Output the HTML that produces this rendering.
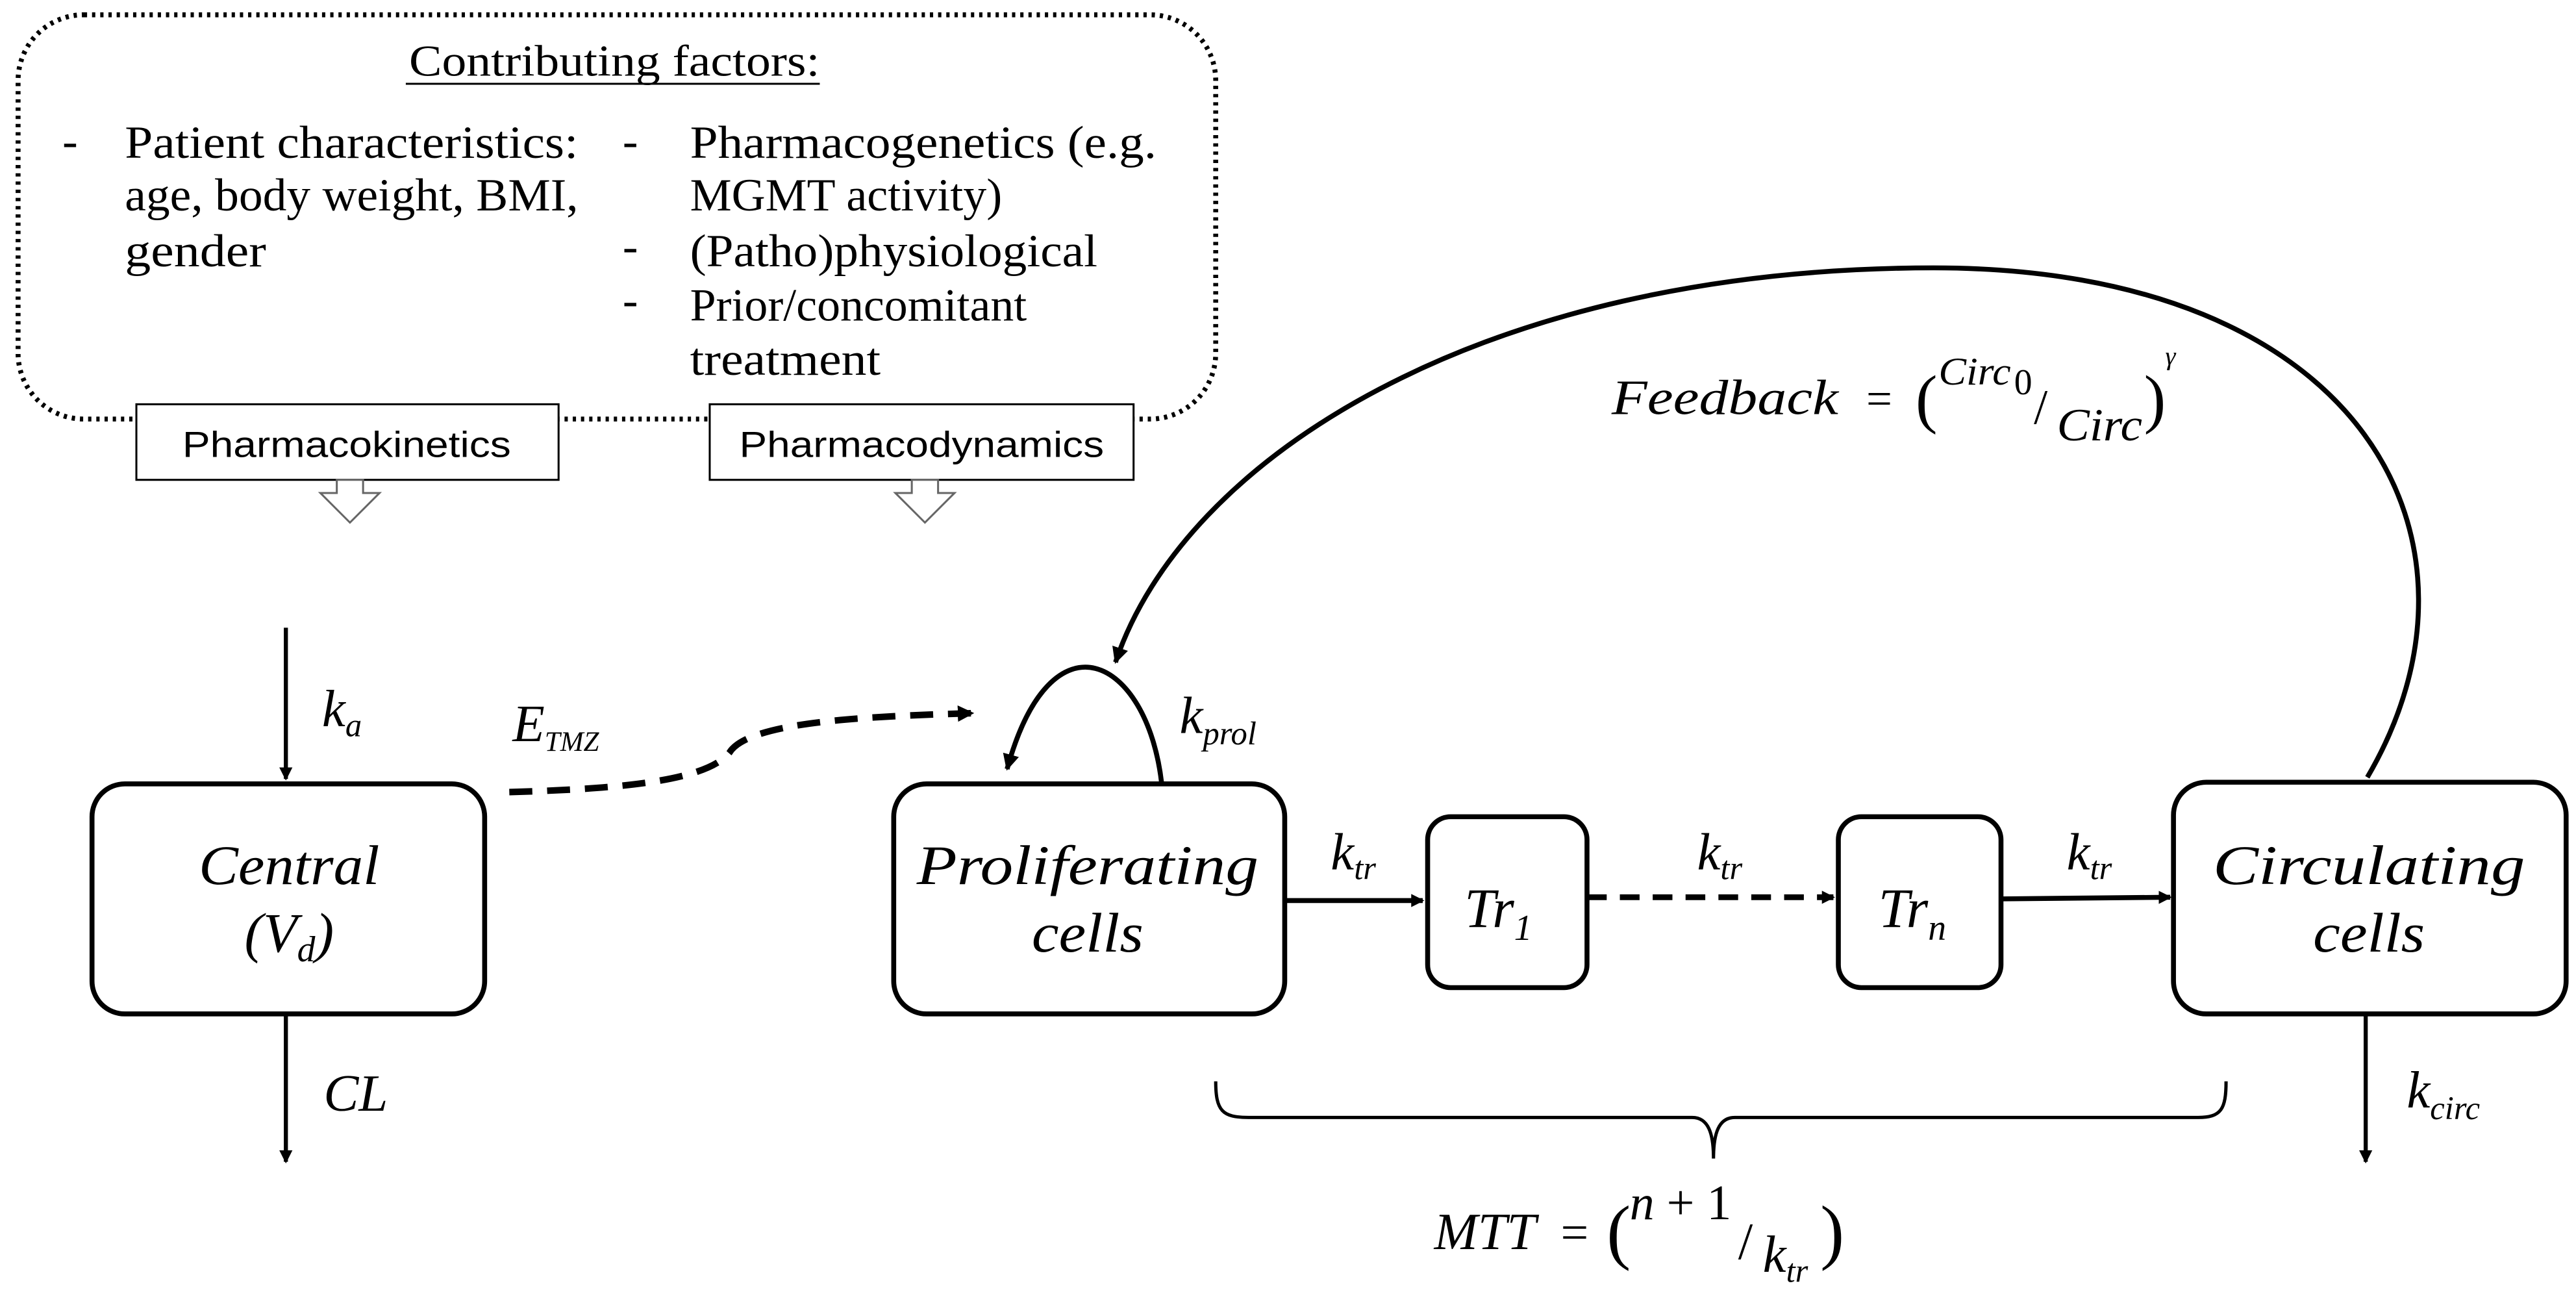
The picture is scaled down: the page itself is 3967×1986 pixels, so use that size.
<!DOCTYPE html>
<html><head><style>html,body{margin:0;padding:0;background:#fff}svg{display:block}</style></head>
<body>
<svg width="3967" height="1986" viewBox="0 0 1568 785" xmlns="http://www.w3.org/2000/svg">
<defs>
<marker id="ah" markerWidth="8" markerHeight="8" refX="7" refY="4" orient="auto" markerUnits="userSpaceOnUse"><path d="M0,0 L8,4 L0,8 Z" fill="#000"/></marker>
<marker id="ah2" markerWidth="10" markerHeight="10" refX="9" refY="5" orient="auto" markerUnits="userSpaceOnUse"><path d="M0,0 L10,5 L0,10 Z" fill="#000"/></marker>
</defs>
<g font-family="Liberation Serif, serif" fill="#000">
<rect x="11" y="9" width="729" height="246" rx="40" fill="none" stroke="#000" stroke-width="3" stroke-dasharray="2 3"/>
<text x="374" y="46" font-size="27" text-anchor="middle" textLength="250" lengthAdjust="spacingAndGlyphs">Contributing factors:</text>
<line x1="247" y1="51" x2="499" y2="51" stroke="#000" stroke-width="1.2"/>
<g font-size="28">
<text x="38" y="95">-</text>
<text x="76" y="96" textLength="276" lengthAdjust="spacingAndGlyphs">Patient characteristics:</text>
<text x="76" y="128" textLength="276" lengthAdjust="spacingAndGlyphs">age, body weight, BMI,</text>
<text x="76" y="162" textLength="86" lengthAdjust="spacingAndGlyphs">gender</text>
<text x="379" y="95">-</text>
<text x="379" y="159">-</text>
<text x="379" y="192">-</text>
<text x="420" y="96" textLength="284" lengthAdjust="spacingAndGlyphs">Pharmacogenetics  (e.g.</text>
<text x="420" y="128" textLength="190" lengthAdjust="spacingAndGlyphs">MGMT activity)</text>
<text x="420" y="162" textLength="248" lengthAdjust="spacingAndGlyphs">(Patho)physiological</text>
<text x="420" y="195" textLength="205" lengthAdjust="spacingAndGlyphs">Prior/concomitant</text>
<text x="420" y="228" textLength="116" lengthAdjust="spacingAndGlyphs">treatment</text>
</g>
<rect x="83" y="246" width="257" height="46" fill="#fff" stroke="#000" stroke-width="1.2"/>
<rect x="432" y="246" width="258" height="46" fill="#fff" stroke="#000" stroke-width="1.2"/>
<text x="211" y="278" font-family="Liberation Sans, sans-serif" font-size="22" text-anchor="middle" textLength="200" lengthAdjust="spacingAndGlyphs">Pharmacokinetics</text>
<text x="561" y="278" font-family="Liberation Sans, sans-serif" font-size="22" text-anchor="middle" textLength="222" lengthAdjust="spacingAndGlyphs">Pharmacodynamics</text>
<polygon points="205,292 205,300 195,300 213,318 231,300 221,300 221,292" fill="#fff" stroke="#666" stroke-width="1.2"/>
<polygon points="555,292 555,300 545,300 563,318 581,300 571,300 571,292" fill="#fff" stroke="#666" stroke-width="1.2"/>

<g fill="#fff" stroke="#000" stroke-width="3">
<rect x="56" y="477" width="239" height="140" rx="20"/>
<rect x="544" y="477" width="238" height="140" rx="20"/>
<rect x="869" y="497" width="97" height="104" rx="14"/>
<rect x="1119" y="497" width="99" height="104" rx="14"/>
<rect x="1323" y="476" width="239" height="141" rx="20"/>
</g>
<g font-style="italic" font-size="34" text-anchor="middle">
<text x="176" y="538" textLength="110" lengthAdjust="spacingAndGlyphs">Central</text>
<text x="176" y="579">(V<tspan font-size="22" dy="6">d</tspan><tspan dy="-6">)</tspan></text>
<text x="662" y="538" textLength="208" lengthAdjust="spacingAndGlyphs">Proliferating</text>
<text x="662" y="579" textLength="68" lengthAdjust="spacingAndGlyphs">cells</text>
<text x="1442" y="538" textLength="190" lengthAdjust="spacingAndGlyphs">Circulating</text>
<text x="1442" y="579" textLength="68" lengthAdjust="spacingAndGlyphs">cells</text>
<text x="912" y="564">Tr<tspan font-size="22" dy="8">1</tspan></text>
<text x="1164" y="564">Tr<tspan font-size="22" dy="8">n</tspan></text>
</g>

<g stroke="#000" stroke-width="2.5" fill="none">
<line x1="174" y1="382" x2="174" y2="474" marker-end="url(#ah)"/>
<line x1="174" y1="617" x2="174" y2="707" marker-end="url(#ah)"/>
<line x1="1440" y1="617" x2="1440" y2="707" marker-end="url(#ah)"/>
<line x1="782" y1="548" x2="866" y2="548" stroke-width="3" marker-end="url(#ah)"/>
<line x1="966" y1="546" x2="1116" y2="546" stroke-width="3.5" stroke-dasharray="12 8" marker-end="url(#ah)"/>
<line x1="1218" y1="547" x2="1321" y2="546" stroke-width="3" marker-end="url(#ah)"/>
<path d="M310,482 C380,480 430,475 444,458 C455,440 520,436 592,434" stroke-width="4" stroke-dasharray="14 9" marker-end="url(#ah2)"/>
<path d="M707,476 C698,400 640,370 613,468" stroke-width="3" marker-end="url(#ah2)"/>
<path d="M1441,473 C1525,330 1440,163 1177,163 C900,163 720,280 679,403" stroke-width="3" marker-end="url(#ah2)"/>
<path d="M740,658 C740,676 744,680 760,680 L1030,680 C1040,680 1043,690 1043,705 C1043,690 1046,680 1056,680 L1338,680 C1352,680 1355,675 1355,658" stroke-width="2"/>
</g>

<g font-style="italic" font-size="32">
<text x="196" y="442">k<tspan font-size="20" dy="6">a</tspan></text>
<text x="197" y="676">CL</text>
<text x="312" y="451">E<tspan font-size="17" dy="6">TMZ</tspan></text>
<text x="718" y="446">k<tspan font-size="20" dy="7">prol</tspan></text>
<text x="810" y="529">k<tspan font-size="20" dy="6">tr</tspan></text>
<text x="1033" y="529">k<tspan font-size="20" dy="6">tr</tspan></text>
<text x="1258" y="529">k<tspan font-size="20" dy="6">tr</tspan></text>
<text x="1465" y="674">k<tspan font-size="20" dy="7">circ</tspan></text>
<text x="981" y="252" font-size="30" textLength="138" lengthAdjust="spacingAndGlyphs">Feedback</text>
<text x="1136" y="252" font-style="normal" font-size="28">=</text>
<text x="1166" y="256" font-style="normal" font-size="40">(</text>
<text x="1180" y="234" font-size="24" textLength="44" lengthAdjust="spacingAndGlyphs">Circ</text>
<text x="1226" y="240" font-style="normal" font-size="22">0</text>
<text x="1238" y="258" font-style="normal" font-size="30">/</text>
<text x="1252" y="268" font-size="28" textLength="52" lengthAdjust="spacingAndGlyphs">Circ</text>
<text x="1305" y="256" font-style="normal" font-size="40">)</text>
<text x="1318" y="222" font-size="16">γ</text>
<text x="873" y="760" textLength="62" lengthAdjust="spacingAndGlyphs">MTT</text>
<text x="950" y="760" font-style="normal" font-size="30">=</text>
<text x="978" y="764" font-style="normal" font-size="44">(</text>
<text x="992" y="742" font-size="30">n <tspan font-style="normal">+ 1</tspan></text>
<text x="1058" y="766" font-style="normal" font-size="32">/</text>
<text x="1073" y="774">k<tspan font-size="20" dy="6">tr</tspan></text>
<text x="1108" y="764" font-style="normal" font-size="44">)</text>
</g>
</g>
</svg>
</body></html>
